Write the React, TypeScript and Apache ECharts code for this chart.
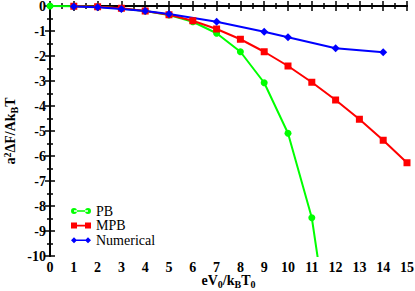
import React, { useEffect, useRef } from "react";
import * as echarts from "echarts";

const xPB = [0, 1, 2, 3, 4, 5, 6, 7, 8, 9, 10, 11, 12];
const yPB = [0, -0.01, -0.03, -0.1, -0.2, -0.36, -0.63, -1.09, -1.83, -3.07, -5.09, -8.47, -14.9];
const xMPB = [1, 2, 3, 4, 5, 6, 7, 8, 9, 10, 11, 12, 13, 14, 15];
const yMPB = [-0.01, -0.03, -0.09, -0.2, -0.35, -0.59, -0.92, -1.33, -1.83, -2.4, -3.05, -3.76, -4.53, -5.37, -6.27];
const xNum = [1, 2, 3, 4, 5, 7, 9, 10, 12, 14];
const yNum = [-0.02, -0.05, -0.12, -0.2, -0.32, -0.63, -1.03, -1.25, -1.69, -1.85];
const seriesNames = ["PB", "MPB", "Numerical"];

const FONT = "'Liberation Serif', 'Times New Roman', serif";

const pairs = (xs: number[], ys: number[]) => xs.map((x, i) => [x, ys[i]]);

export default function App() {
  const ref = useRef<HTMLDivElement>(null);
  useEffect(() => {
    document.body.style.margin = "0";
    if (!ref.current) return;
    const chart = echarts.init(ref.current, null, { renderer: "svg" });
    const axisLine = { show: true, lineStyle: { color: "#000", width: 2 } };
    const axisTick = { show: true, inside: true, length: 5, lineStyle: { color: "#000", width: 1.5 } };
    const minorTick = { show: true, splitNumber: 2, length: 3, lineStyle: { color: "#000", width: 1.5 } };
    const labelStyle = { fontFamily: FONT, fontWeight: "bold" as const, fontSize: 14, color: "#000" };
    const subStyle = { fontFamily: FONT, fontWeight: "bold" as const, fontSize: 10, color: "#000", verticalAlign: "bottom" as const, lineHeight: 17 };
    const supStyle = { fontFamily: FONT, fontWeight: "bold" as const, fontSize: 10, color: "#000", verticalAlign: "top" as const, lineHeight: 17 };
    const xAxisBase = { type: "value" as const, min: 0, max: 15, interval: 1, splitLine: { show: false }, axisLine, axisTick, minorTick };
    const yAxisBase = { type: "value" as const, min: -10, max: 0, interval: 1, splitLine: { show: false }, axisLine, axisTick, minorTick };
    chart.setOption({
      animation: false,
      grid: { left: 50, right: 8, top: 6, bottom: 35, outerBoundsMode: "none", containLabel: false },
      legend: {
        orient: "vertical",
        left: 71,
        top: 204,
        padding: 0,
        itemGap: 0.6,
        itemWidth: 20,
        itemHeight: 6,
        textStyle: { fontFamily: FONT, fontSize: 14, color: "#000", lineHeight: 13 },
        data: [
          { name: seriesNames[0], icon: "path://M0,3A3,3,0,1,0,6,3A3,3,0,1,0,0,3ZM14,3A3,3,0,1,0,20,3A3,3,0,1,0,14,3ZM3,2.2L17,2.2L17,3.8L3,3.8Z" },
          { name: seriesNames[1], icon: "path://M0,0L6,0L6,6L0,6ZM14,0L20,0L20,6L14,6ZM5,2.2L15,2.2L15,3.8L5,3.8Z" },
          { name: seriesNames[2], icon: "path://M3,0L6,3L3,6L0,3ZM17,0L20,3L17,6L14,3ZM3,2.2L17,2.2L17,3.8L3,3.8Z" },
        ],
      },
      xAxis: [
        {
          ...xAxisBase,
          position: "bottom",
          axisLabel: { ...labelStyle, margin: 4 },
          name: "eV{sub|0}/k{sub|B}T{sub|0}",
          nameLocation: "middle",
          nameGap: 16,
          nameMoveOverlap: false,
          nameTextStyle: { ...labelStyle, lineHeight: 17, rich: { sub: subStyle } },
        },
        { ...xAxisBase, position: "top", axisLabel: { show: false } },
      ],
      yAxis: [
        {
          ...yAxisBase,
          position: "left",
          axisLabel: { ...labelStyle, margin: 4 },
          name: "a{sup|2}ΔF/Ak{sub|B}T",
          nameLocation: "middle",
          nameGap: 31,
          nameMoveOverlap: false,
          nameTextStyle: { ...labelStyle, lineHeight: 17, rich: { sub: subStyle, sup: supStyle } },
        },
        { ...yAxisBase, position: "right", axisLabel: { show: false } },
      ],
      series: [
        {
          name: seriesNames[0],
          type: "line",
          data: pairs(xPB, yPB),
          symbol: "circle",
          symbolSize: 7,
          lineStyle: { color: "#00ff00", width: 2 },
          itemStyle: { color: "#00ff00" },
          clip: true,
        },
        {
          name: seriesNames[1],
          type: "line",
          data: pairs(xMPB, yMPB),
          symbol: "rect",
          symbolSize: 7,
          lineStyle: { color: "#ff0000", width: 2 },
          itemStyle: { color: "#ff0000" },
          clip: true,
        },
        {
          name: seriesNames[2],
          type: "line",
          data: pairs(xNum, yNum),
          symbol: "diamond",
          symbolSize: 8,
          lineStyle: { color: "#0000ff", width: 2 },
          itemStyle: { color: "#0000ff" },
          clip: true,
        },
      ],
    });
    return () => chart.dispose();
  }, []);
  return <div ref={ref} style={{ width: 415, height: 291 }} />;
}
